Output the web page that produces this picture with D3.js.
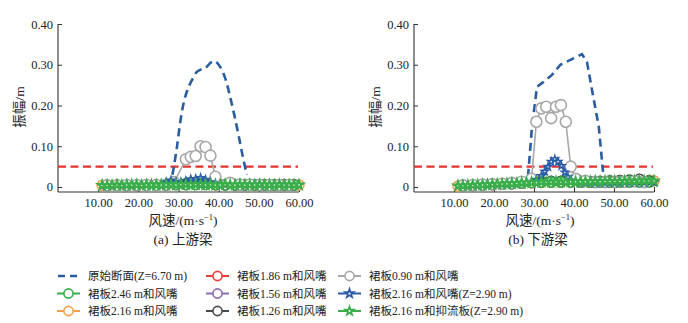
<!DOCTYPE html>
<html>
<head>
<meta charset="utf-8">
<script src="https://cdn.jsdelivr.net/npm/d3@7"></script>
<style>
  html, body { margin: 0; padding: 0; background: #fff; }
  svg { display: block; }
  text { font-family: "Liberation Serif", "Times New Roman", "Noto Sans CJK SC", serif; fill: #222; }
</style>
</head>
<body>
<svg id="chart" width="688" height="323"></svg>
<script>
// ---- Data -------------------------------------------------------------
// wind speed grids (m/s)
const speedsFine = [11.00, 12.23, 13.45, 14.68, 15.90, 17.13, 18.35, 19.58, 20.80, 22.03,
  23.25, 24.48, 25.70, 26.93, 28.15, 29.38, 30.60, 31.83, 33.05, 34.28,
  35.50, 36.73, 37.95, 39.18, 40.40, 41.63, 42.85, 44.08, 45.30, 46.53,
  47.75, 48.98, 50.20, 51.43, 52.65, 53.88, 55.10, 56.33, 57.55, 58.78, 60.00];
const speedsOrange = [11.00, 12.23, 14.68, 17.13, 19.58, 22.03, 24.48, 26.93, 29.38, 31.83,
  34.28, 36.73, 39.18, 41.63, 44.08, 46.53, 48.98, 51.43, 53.88, 56.33, 58.78, 60.00];
const speedsOdd = [12.23, 14.68, 17.13, 19.58, 22.03, 24.48, 26.93, 29.38, 31.83, 34.28,
  36.73, 39.18, 41.63, 44.08, 46.53, 48.98, 51.43, 53.88, 56.33, 58.78];

const xTicks = [10, 20, 30, 40, 50, 60];
const yTicks = [0, 0.1, 0.2, 0.3, 0.4];
const criticalAmp = 0.05;

// (a) upstream girder
const upOrigSpeed = [28.5, 29.5, 30.6, 31.5, 32.5, 33.5, 34.5, 35.5, 36.7, 38.0, 39.0, 40.0, 41.0, 42.0, 43.0, 44.0, 45.0, 46.0, 47.0];
const upOrigAmp   = [0.030, 0.090, 0.170, 0.215, 0.245, 0.265, 0.282, 0.288, 0.292, 0.305, 0.309, 0.300, 0.283, 0.255, 0.215, 0.172, 0.125, 0.075, 0.030];
const upS246 = [0.004, 0.004, 0.004, 0.005, 0.005, 0.005, 0.005, 0.006, 0.006, 0.006, 0.006, 0.006, 0.005, 0.005, 0.005, 0.005, 0.005, 0.005, 0.005, 0.005];
const upS216 = [0.004, 0.004, 0.004, 0.004, 0.005, 0.005, 0.005, 0.005, 0.006, 0.006, 0.006, 0.006, 0.005, 0.005, 0.005, 0.005, 0.005, 0.005, 0.005, 0.005, 0.005, 0.005];
const upS186 = [0.003, 0.004, 0.004, 0.004, 0.005, 0.005, 0.005, 0.006, 0.006, 0.007, 0.007, 0.006, 0.005, 0.005, 0.005, 0.005, 0.005, 0.005, 0.005, 0.005];
const upS156 = [0.003, 0.004, 0.004, 0.004, 0.005, 0.005, 0.005, 0.006, 0.007, 0.007, 0.007, 0.006, 0.005, 0.005, 0.005, 0.005, 0.005, 0.005, 0.005, 0.005];
const upS126 = [0.003, 0.004, 0.004, 0.004, 0.005, 0.005, 0.006, 0.007, 0.008, 0.008, 0.008, 0.007, 0.006, 0.005, 0.005, 0.005, 0.005, 0.005, 0.005, 0.005];
const upS090Speed = [12.23, 14.68, 17.13, 19.58, 22.03, 24.48, 26.93, 28.90, 31.83, 33.05, 34.28, 35.50, 36.73, 37.95, 39.18, 42.85, 45.30, 47.75, 50.20, 52.65, 55.10, 57.55];
const upS090Amp   = [0.004, 0.004, 0.005, 0.005, 0.005, 0.005, 0.006, 0.012, 0.068, 0.074, 0.076, 0.100, 0.098, 0.077, 0.025, 0.010, 0.006, 0.006, 0.005, 0.005, 0.005, 0.005];
const upStarWind  = [0.003, 0.003, 0.003, 0.004, 0.004, 0.004, 0.004, 0.005, 0.005, 0.005, 0.006, 0.006, 0.007, 0.012, 0.016, 0.012, 0.012, 0.015, 0.019, 0.020, 0.022, 0.018, 0.012, 0.008, 0.006,
  0.006, 0.005, 0.005, 0.005, 0.005, 0.005, 0.005, 0.005, 0.005, 0.005, 0.005, 0.005, 0.005, 0.005, 0.005, 0.005];
const upStarPlate = [0.004, 0.004, 0.004, 0.005, 0.004, 0.005, 0.005, 0.005, 0.004, 0.005, 0.005, 0.005, 0.005, 0.005, 0.006, 0.005, 0.006, 0.006, 0.005, 0.006, 0.006, 0.005, 0.006, 0.005, 0.005,
  0.006, 0.005, 0.005, 0.006, 0.005, 0.005, 0.005, 0.006, 0.005, 0.005, 0.005, 0.006, 0.005, 0.005, 0.005, 0.005];

// (b) downstream girder
const dnOrigSpeed = [28.5, 29.5, 30.75, 32.4, 34.5, 36.6, 39.1, 42.0, 43.25, 44.5, 46.2, 47.25];
const dnOrigAmp   = [0.025, 0.148, 0.246, 0.258, 0.275, 0.300, 0.312, 0.326, 0.307, 0.238, 0.148, 0.037];
const dnS246 = [0.004, 0.004, 0.005, 0.006, 0.007, 0.008, 0.009, 0.011, 0.012, 0.012, 0.012, 0.012, 0.012, 0.012, 0.012, 0.012, 0.012, 0.012, 0.012, 0.012];
const dnS216 = [0.002, 0.003, 0.004, 0.005, 0.006, 0.007, 0.008, 0.009, 0.010, 0.011, 0.012, 0.012, 0.012, 0.012, 0.012, 0.013, 0.013, 0.013, 0.014, 0.015, 0.016, 0.015];
const dnS186 = [0.003, 0.004, 0.005, 0.006, 0.007, 0.008, 0.009, 0.011, 0.012, 0.012, 0.012, 0.012, 0.012, 0.012, 0.012, 0.012, 0.013, 0.013, 0.013, 0.013];
const dnS156 = [0.003, 0.004, 0.005, 0.006, 0.007, 0.008, 0.010, 0.012, 0.013, 0.013, 0.013, 0.013, 0.013, 0.013, 0.013, 0.014, 0.015, 0.016, 0.018, 0.014];
const dnS126 = [0.003, 0.004, 0.005, 0.006, 0.007, 0.009, 0.011, 0.013, 0.014, 0.014, 0.014, 0.014, 0.014, 0.013, 0.014, 0.015, 0.016, 0.017, 0.019, 0.015];
const dnS090Speed = [12.23, 14.68, 17.13, 19.58, 22.03, 24.48, 26.93, 29.38, 30.60, 31.83, 33.05, 34.28, 35.50, 36.73, 37.95, 39.18, 40.40, 42.85, 45.30, 47.75, 50.20, 52.65, 55.10, 57.55];
const dnS090Amp   = [0.004, 0.005, 0.006, 0.007, 0.008, 0.010, 0.013, 0.020, 0.160, 0.193, 0.197, 0.169, 0.197, 0.201, 0.160, 0.050, 0.020, 0.015, 0.012, 0.012, 0.012, 0.013, 0.014, 0.012];
const dnStarWindSpeed = [11.00, 12.23, 13.45, 14.68, 15.90, 17.13, 18.35, 19.58, 20.80, 22.03, 23.25, 24.48, 25.70, 26.93, 28.15, 29.38, 30.60,
  31.85, 32.70, 33.50, 34.30, 35.20, 36.00, 36.85, 37.70, 38.50, 39.30, 40.40, 41.63, 42.85, 44.08, 45.30, 46.53, 47.75, 48.98, 50.20, 51.43, 52.65, 53.88, 55.10, 56.33, 57.55, 58.78, 60.00];
const dnStarWindAmp = [0.002, 0.003, 0.003, 0.004, 0.004, 0.005, 0.005, 0.006, 0.006, 0.007, 0.007, 0.008, 0.008, 0.009, 0.010, 0.013, 0.018,
  0.027, 0.038, 0.050, 0.062, 0.068, 0.062, 0.052, 0.036, 0.024, 0.016, 0.012, 0.010, 0.010, 0.010, 0.010, 0.010, 0.010, 0.010, 0.010, 0.010, 0.011, 0.011, 0.011, 0.011, 0.011, 0.011, 0.011];
const dnStarPlate = [0.003, 0.003, 0.004, 0.004, 0.005, 0.005, 0.006, 0.006, 0.007, 0.007, 0.008, 0.008, 0.009, 0.010, 0.010, 0.011, 0.011, 0.012, 0.012, 0.012, 0.013, 0.012, 0.012, 0.013, 0.013,
  0.013, 0.013, 0.013, 0.014, 0.013, 0.014, 0.014, 0.014, 0.014, 0.014, 0.015, 0.014, 0.015, 0.015, 0.015, 0.015];

// legend labels in order
const legendLabels = ["原始断面(Z=6.70 m)", "裙板2.46 m和风嘴", "裙板2.16 m和风嘴",
  "裙板1.86 m和风嘴", "裙板1.56 m和风嘴", "裙板1.26 m和风嘴",
  "裙板0.90 m和风嘴", "裙板2.16 m和风嘴(Z=2.90 m)", "裙板2.16 m和抑流板(Z=2.90 m)"];

// ---- Styles -----------------------------------------------------------
const C = {
  orig: "#2a5d9f", crit: "#e4322f", s246: "#3aae4a", s216: "#f4a04c", s186: "#e5413b",
  s156: "#8d6bb3", s126: "#4a4a4a", s090: "#a8a8a8", starWind: "#2a5ca8", starPlate: "#3aae4a"
};
const starStyle = { starWind: { size: 16, w: 1.5, lw: 1.8 }, starPlate: { size: 22, w: 2, lw: 2.4 } };

const zip = (xs, ys) => xs.map((x, i) => ({ x, y: ys[i] }));

const panels = [
  {
    x0: 58, x1: 299, caption: "(a) 上游梁", captionX: 183, titleX: 183,
    orig: zip(upOrigSpeed, upOrigAmp), origCurve: d3.curveCatmullRom,
    circles: [
      { key: "s216", pts: zip(speedsOrange, upS216) },
      { key: "s186", pts: zip(speedsOdd, upS186) },
      { key: "s156", pts: zip(speedsOdd, upS156) },
      { key: "s126", pts: zip(speedsOdd, upS126) },
      { key: "s246", pts: zip(speedsOdd, upS246) },
      { key: "s090", pts: zip(upS090Speed, upS090Amp), r: 5.5, w: 1.6 }
    ],
    stars: [
      { key: "starWind", pts: zip(speedsFine, upStarWind) },
      { key: "starPlate", pts: zip(speedsFine, upStarPlate) }
    ]
  },
  {
    x0: 414, x1: 654, caption: "(b) 下游梁", captionX: 538, titleX: 540,
    orig: zip(dnOrigSpeed, dnOrigAmp), origCurve: d3.curveLinear,
    circles: [
      { key: "s216", pts: zip(speedsOrange, dnS216) },
      { key: "s186", pts: zip(speedsOdd, dnS186) },
      { key: "s156", pts: zip(speedsOdd, dnS156) },
      { key: "s126", pts: zip(speedsOdd, dnS126) },
      { key: "s246", pts: zip(speedsOdd, dnS246) },
      { key: "s090", pts: zip(dnS090Speed, dnS090Amp), r: 5.5, w: 1.6 }
    ],
    stars: [
      { key: "starWind", pts: zip(dnStarWindSpeed, dnStarWindAmp) },
      { key: "starPlate", pts: zip(speedsFine, dnStarPlate) }
    ]
  }
];

const svg = d3.select("#chart");
const yTop = 24, yBottom = 192;
const star = d3.symbol().type(d3.symbolStar);

panels.forEach(p => {
  const x = d3.scaleLinear().domain([0, 60]).range([p.x0, p.x1]);
  const y = d3.scaleLinear().domain([-0.0123, 0.4]).range([yBottom, yTop]);
  const g = svg.append("g");

  // axes
  const ax = g.append("g").attr("transform", `translate(0,${yBottom})`)
    .call(d3.axisBottom(x).tickValues(xTicks).tickFormat(d3.format(".2f"))
      .tickSizeInner(-5).tickSizeOuter(0).tickPadding(6));
  const ay = g.append("g").attr("transform", `translate(${p.x0},0)`)
    .call(d3.axisLeft(y).tickValues(yTicks).tickFormat(d => d === 0 ? "0" : d3.format(".2f")(d))
      .tickSizeInner(-4).tickSizeOuter(0).tickPadding(5));
  [ax, ay].forEach(a => {
    a.select(".domain").attr("stroke", "#333").attr("stroke-width", 1.1);
    a.selectAll(".tick line").attr("stroke", "#333").attr("stroke-width", 1);
    a.selectAll(".tick text").attr("font-size", 12.5).attr("fill", "#222")
      .style("font-family", '"Liberation Serif", serif');
  });
  ax.select(".domain").attr("d", `M${p.x0},0H${p.x1}`);
  ay.select(".domain").attr("d", `M0,${yBottom}V${yTop}`);

  // titles
  g.append("text").attr("x", p.titleX).attr("y", 225).attr("text-anchor", "middle")
    .attr("font-size", 13.5)
    .call(t => {
      t.append("tspan").text("风速/(m·s");
      t.append("tspan").attr("font-size", 8.5).attr("dy", -5).text("−1");
      t.append("tspan").attr("dy", 5).text(")");
    });
  g.append("text").attr("x", p.captionX).attr("y", 243.5).attr("text-anchor", "middle")
    .attr("font-size", 13.5).text(p.caption);
  g.append("text").attr("transform", `translate(${p.x0 - 34},107) rotate(-90)`)
    .attr("text-anchor", "middle").attr("font-size", 13.5).text("振幅/m");

  // critical amplitude
  g.append("line").attr("x1", p.x0).attr("x2", p.x1 - 1)
    .attr("y1", y(criticalAmp)).attr("y2", y(criticalAmp))
    .attr("stroke", C.crit).attr("stroke-width", 2.4).attr("stroke-dasharray", "8,4.5");

  // original section
  g.append("path").datum(p.orig)
    .attr("d", d3.line().x(d => x(d.x)).y(d => y(d.y)).curve(p.origCurve))
    .attr("fill", "none").attr("stroke", C.orig).attr("stroke-width", 2.6)
    .attr("stroke-dasharray", "8,5");

  const lineGen = d3.line().x(d => x(d.x)).y(d => y(d.y));

  // circle-marker series
  p.circles.forEach(s => {
    const col = C[s.key];
    g.append("path").datum(s.pts).attr("d", lineGen)
      .attr("fill", "none").attr("stroke", col).attr("stroke-width", s.w || 2);
    g.append("g").selectAll("circle").data(s.pts).join("circle")
      .attr("cx", d => x(d.x)).attr("cy", d => y(d.y)).attr("r", s.r || 5)
      .attr("fill", "#fff").attr("stroke", col).attr("stroke-width", 1.6);
  });

  // star-marker series
  p.stars.forEach(s => {
    const col = C[s.key], st = starStyle[s.key];
    g.append("path").datum(s.pts).attr("d", lineGen)
      .attr("fill", "none").attr("stroke", col).attr("stroke-width", st.lw);
    g.append("g").selectAll("path").data(s.pts).join("path")
      .attr("d", star.size(st.size)())
      .attr("transform", d => `translate(${x(d.x)},${y(d.y)})`)
      .attr("fill", "#fff").attr("stroke", col).attr("stroke-width", st.w);
  });
});

// ---- Legend -----------------------------------------------------------
const legendKeys = ["orig", "s246", "s216", "s186", "s156", "s126", "s090", "starWind", "starPlate"];
const colX = [57, 206, 338];
const rowY = [276, 293.5, 311];
const legend = svg.append("g");
legendKeys.forEach((k, i) => {
  const cx = colX[Math.floor(i / 3)], cy = rowY[i % 3];
  const item = legend.append("g").attr("transform", `translate(${cx},${cy})`);
  if (k === "orig") {
    item.append("line").attr("x1", 1).attr("x2", 21).attr("y1", 0).attr("y2", 0)
      .attr("stroke", C.orig).attr("stroke-width", 2.6).attr("stroke-dasharray", "7,5");
  } else {
    item.append("line").attr("x1", 0).attr("x2", 23).attr("y1", 0).attr("y2", 0)
      .attr("stroke", C[k]).attr("stroke-width", 2);
    if (k.startsWith("star")) {
      item.append("path").attr("d", star.size(22)()).attr("transform", "translate(11.5,0)")
        .attr("fill", "#fff").attr("stroke", C[k]).attr("stroke-width", 1.7);
    } else {
      item.append("circle").attr("cx", 11.5).attr("cy", 0).attr("r", 4.6)
        .attr("fill", "#fff").attr("stroke", C[k]).attr("stroke-width", 1.6);
    }
  }
  item.append("text").attr("x", 31).attr("y", 4).attr("font-size", 11.5).text(legendLabels[i]);
});
</script>
</body>
</html>
